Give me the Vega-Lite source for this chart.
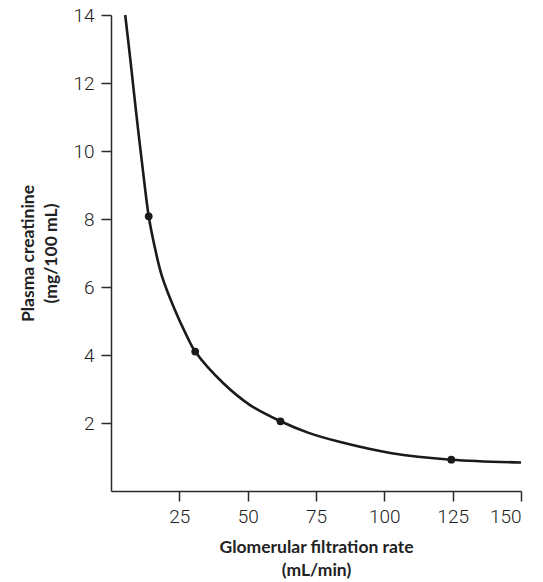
{
  "$schema": "https://vega.github.io/schema/vega-lite/v6.json",
  "width": 410,
  "height": 476,
  "autosize": {"type": "none"},
  "padding": {"left": 111, "top": 15, "right": 22, "bottom": 91},
  "background": "white",
  "config": {
    "view": {"stroke": null},
    "axis": {
      "grid": false,
      "domainColor": "#2a2a2a",
      "domainWidth": 1.5,
      "tickColor": "#2a2a2a",
      "tickWidth": 1.5,
      "tickSize": 10,
      "labelFont": "Roboto, sans-serif",
      "labelFontWeight": 300,
      "labelFontSize": 19,
      "labelColor": "#222222",
      "titleFont": "Lato, Open Sans, sans-serif",
      "titleFontSize": 17.5,
      "titleFontWeight": "bold",
      "titleColor": "#222222",
      "titleLineHeight": 23
    }
  },
  "datasets": {
    "curve": [
      {"gfr": 5.2, "cr": 14.0},
      {"gfr": 7.2, "cr": 12.6},
      {"gfr": 9.1, "cr": 11.2},
      {"gfr": 11.5, "cr": 9.55},
      {"gfr": 13.8, "cr": 8.08},
      {"gfr": 15.8, "cr": 7.25},
      {"gfr": 18.6, "cr": 6.33},
      {"gfr": 23.3, "cr": 5.34},
      {"gfr": 27.8, "cr": 4.55},
      {"gfr": 30.8, "cr": 4.1},
      {"gfr": 41.2, "cr": 3.16},
      {"gfr": 51.0, "cr": 2.52},
      {"gfr": 62.0, "cr": 2.05},
      {"gfr": 72.3, "cr": 1.71},
      {"gfr": 83.9, "cr": 1.44},
      {"gfr": 102.2, "cr": 1.12},
      {"gfr": 124.5, "cr": 0.92},
      {"gfr": 150.0, "cr": 0.84}
    ],
    "dots": [
      {"gfr": 13.8, "cr": 8.08},
      {"gfr": 30.8, "cr": 4.1},
      {"gfr": 62.0, "cr": 2.05},
      {"gfr": 124.5, "cr": 0.92}
    ]
  },
  "layer": [
    {
      "data": {"name": "curve"},
      "mark": {"type": "line", "color": "#1a1a1a", "strokeWidth": 2.6, "interpolate": "catmull-rom"},
      "encoding": {
        "x": {
          "field": "gfr", "type": "quantitative",
          "scale": {"domain": [0, 150], "nice": false},
          "axis": {"values": [25, 50, 75, 100, 125, 150], "labelPadding": 6,
                   "title": ["Glomerular filtration rate", "(mL/min)"], "titlePadding": 12}
        },
        "y": {
          "field": "cr", "type": "quantitative",
          "scale": {"domain": [0, 14], "nice": false},
          "axis": {"values": [2, 4, 6, 8, 10, 12, 14], "labelPadding": 7,
                   "title": ["Plasma creatinine", "(mg/100 mL)"], "titlePadding": 12}
        }
      }
    },
    {
      "data": {"name": "dots"},
      "mark": {"type": "point", "filled": true, "color": "#1a1a1a", "opacity": 1, "size": 60},
      "encoding": {
        "x": {"field": "gfr", "type": "quantitative"},
        "y": {"field": "cr", "type": "quantitative"}
      }
    }
  ]
}
